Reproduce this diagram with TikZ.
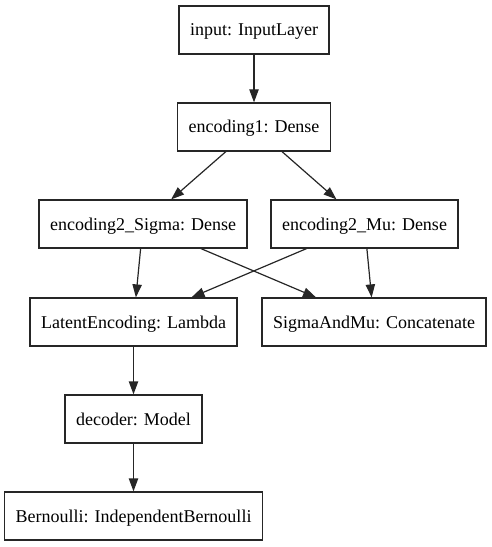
\documentclass[tikz,border=0pt]{standalone}
\usepackage{fontspec}
\setmainfont{Liberation Serif}
\usetikzlibrary{arrows.meta,positioning}

\begin{document}
\begin{tikzpicture}[x=1bp, y=-1bp, ->, >={Triangle[length=13bp,width=9.3bp]},
      line width=1.2bp, color=black!85,
      every node/.append style={font=\fontsize{18bp}{21bp}\selectfont,text=black}]
    \tikzstyle{layer} = [draw,rectangle,minimum height=48bp,inner xsep=11bp,
      text height=14bp,text depth=2bp]
    \useasboundingbox (0,0) rectangle (492,547);
    \node [layer] (input) at (254,30) {input: InputLayer};
    \node [layer] (encoding1) at (254,127) {encoding1: Dense};
    \node [layer] (sigma) at (143,224) {encoding2\_Sigma: Dense};
    \node [layer] (mu) at (364.5,224) {encoding2\_Mu: Dense};
    \node [layer] (latent) at (133.5,322) {LatentEncoding: Lambda};
    \node [layer] (concat) at (374,322) {SigmaAndMu: Concatenate};
    \node [layer] (decoder) at (133.5,419) {decoder: Model};
    \node [layer] (bernoulli) at (133.5,516) {Bernoulli: IndependentBernoulli};
    \draw (input) -- (encoding1);
    \draw (encoding1) -- (sigma);
    \draw (encoding1) -- (mu);
    \draw (sigma) -- (latent);
    \draw (sigma) -- (concat);
    \draw (mu) -- (latent);
    \draw (mu) -- (concat);
    \draw (latent) -- (decoder);
    \draw (decoder) -- (bernoulli);
  \end{tikzpicture}
\end{document}
